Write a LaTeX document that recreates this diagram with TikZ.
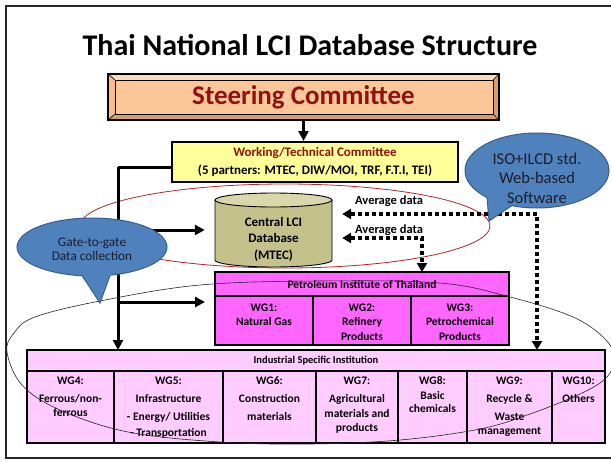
\documentclass[tikz,border=0pt]{standalone}
\usepackage{fontspec}
\setmainfont{Carlito}
\usetikzlibrary{arrows.meta,calc}
\definecolor{darkredtxt}{RGB}{145,18,18}
\definecolor{pitmag}{RGB}{255,102,255}
\definecolor{isipink}{RGB}{255,204,255}
\definecolor{wtcyellow}{RGB}{255,255,153}
\definecolor{scface}{RGB}{251,198,152}
\definecolor{sclight}{RGB}{253,218,186}
\definecolor{scmid}{RGB}{247,190,140}
\definecolor{scdark}{RGB}{214,158,108}
\definecolor{callblue}{RGB}{79,129,189}
\definecolor{callborder}{RGB}{56,93,138}
\definecolor{calltxt}{RGB}{28,30,44}
\definecolor{dbbody}{RGB}{196,193,138}
\definecolor{dbtop}{RGB}{217,215,171}
\definecolor{redring}{RGB}{178,40,40}
\tikzset{
  boxline/.style={draw=black, line width=2pt},
  thickarrow/.style={line width=3pt, -{Triangle[length=10pt,width=10pt]}},
  thickline/.style={line width=3pt},
  dotarrow/.style={line width=3.5pt, dash pattern=on 4pt off 3pt,
     {Triangle[length=9pt,width=10pt]}-{Triangle[length=9pt,width=10pt]}},
  pitcell/.style={boxline, fill=pitmag, anchor=north west, inner sep=0pt, outer sep=0pt},
  isicell/.style={boxline, fill=isipink, anchor=north west, inner sep=0pt, outer sep=0pt},
  celltext/.style={anchor=north, align=center, inner sep=0pt,
     font=\bfseries\fontsize{11.5}{14}\selectfont},
  pittext/.style={anchor=north, align=center, inner sep=0pt,
     font=\bfseries\fontsize{11.5}{14.5}\selectfont},
  callfill/.style={fill=callblue},
  callline/.style={draw=callborder, line width=1pt},
}
\begin{document}
\begin{tikzpicture}[x=1pt,y=-1pt]
\useasboundingbox (0,0) rectangle (611,461);
\clip (0,0) rectangle (611,461);
\fill[white] (0,0) rectangle (611,461);
% frame
\draw[line width=2pt, black!85] (6,6) rectangle (630,458);

% title
\node[font=\bfseries\fontsize{30}{36}\selectfont] (title) at (310,45) {Thai National LCI Database Structure};

% red ring
\draw[redring, line width=0.8pt] (285,226) ellipse[x radius=205, y radius=42];

% steering committee (bevel)
\fill[sclight] (108,74) -- (499,74) -- (493,80) -- (115,80) -- cycle;
\fill[scmid] (108,74) -- (115,80) -- (115,114) -- (108,120) -- cycle;
\fill[scdark] (108,120) -- (499,120) -- (493,114) -- (115,114) -- cycle;
\fill[scdark] (499,74) -- (499,120) -- (493,114) -- (493,80) -- cycle;
\draw[line width=0.6pt] (108,74) -- (115,80) (499,74) -- (493,80) (108,120) -- (115,114) (499,120) -- (493,114);
\node[draw=black, line width=0.8pt, fill=scface, minimum width=378pt, minimum height=34pt, inner sep=0pt] (scface) at (304,97) {};
\node[draw=black, line width=1.5pt, minimum width=391pt, minimum height=46pt, inner sep=0pt,
      text=darkredtxt, font=\bfseries\fontsize{27}{32}\selectfont] (sc) at (303.5,97) {Steering Committee};

% working / technical committee
\node[boxline, fill=wtcyellow, minimum width=286pt, minimum height=40pt, inner sep=0pt, align=center,
      font=\bfseries\fontsize{13}{18}\selectfont] (wtc) at (315,162)
      {\textcolor{darkredtxt}{Working/Technical Committee}\\(5 partners: MTEC, DIW/MOI, TRF, F.T.I, TEI)};
\draw[thickarrow] (sc.south) -- (sc.south |- wtc.north);

% central database (cylinder)
\node[minimum width=117pt, minimum height=74pt, inner sep=0pt] (db) at (273.5,230) {};
\filldraw[fill=dbbody, line width=0.9pt] (215,200) -- (215,260) -- plot[domain=180:360, samples=40] ({273.5+58.5*cos(\x)},{260-7*sin(\x)}) -- (332,200) -- cycle;
\filldraw[fill=dbtop, line width=0.9pt] (273.5,200) ellipse[x radius=58.5, y radius=7];
\node[align=center, font=\bfseries\fontsize{13}{16.5}\selectfont] (dbt) at (273.5,239) {Central LCI\\Database\\(MTEC)};

% Petroleum Institute of Thailand
\node[pitcell, minimum width=294pt, minimum height=24pt, font=\bfseries\fontsize{11.5}{14}\selectfont] (pit) at (215,272) {Petroleum Institute of Thailand};
\node[pitcell, minimum width=98pt, minimum height=49pt] (wg1) at (215,296) {};
\node[pitcell, minimum width=98pt, minimum height=49pt] (wg2) at (313,296) {};
\node[pitcell, minimum width=98pt, minimum height=49pt] (wg3) at (411,296) {};
\node[pittext] (wg1t) at ($(wg1.north)+(0,7.4)$) {WG1:\\Natural Gas};
\node[pittext] (wg2t) at ($(wg2.north)+(0,7.4)$) {WG2:\\Refinery\\Products};
\node[pittext] (wg3t) at ($(wg3.north)+(0,7.4)$) {WG3:\\Petrochemical\\Products};

% Industrial Specific Institution
\node[isicell, minimum width=578pt, minimum height=21pt, font=\bfseries\fontsize{10.5}{13}\selectfont] (isi) at (27,350) {Industrial Specific Institution};
\node[isicell, minimum width=87pt, minimum height=72pt] (wg4) at (27,371) {};
\node[isicell, minimum width=109pt, minimum height=72pt] (wg5) at (114,371) {};
\node[isicell, minimum width=93pt, minimum height=72pt] (wg6) at (223,371) {};
\node[isicell, minimum width=82pt, minimum height=72pt] (wg7) at (316,371) {};
\node[isicell, minimum width=69pt, minimum height=72pt] (wg8) at (398,371) {};
\node[isicell, minimum width=85pt, minimum height=72pt] (wg9) at (467,371) {};
\node[isicell, minimum width=53pt, minimum height=72pt] (wg10) at (552,371) {};
\node[celltext] (wg4t) at ($(wg4.north)+(0,5.4)$) {WG4:\\[4pt]Ferrous/non-\\ferrous};
\node[celltext] (wg5t) at ($(wg5.north)+(0,5.4)$) {WG5:\\[4pt]Infrastructure\\[4pt]- Energy/ Utilities\\[2pt]- Transportation};
\node[celltext] (wg6t) at ($(wg6.north)+(0,5.4)$) {WG6:\\[4pt]Construction\\[4pt]materials};
\node[celltext] (wg7t) at ($(wg7.north)+(0,5.4)$) {WG7:\\[4pt]Agricultural\\[1pt]materials and\\products};
\node[celltext] (wg8t) at ($(wg8.north)+(0,5.4)$) {WG8:\\[1pt]Basic\\[-1pt]chemicals};
\node[celltext] (wg9t) at ($(wg9.north)+(0,5.4)$) {WG9:\\[4pt]Recycle \&\\[4pt]Waste\\management};
\node[celltext] (wg10t) at ($(wg10.north)+(0,5.4)$) {WG10:\\[4pt]Others};

% solid trunk and arrows
\coordinate (tk) at (118,167);
\coordinate (tkp) at (118,302);
\draw[thickline] (wtc.west |- tk) -- (tk);
\draw[thickarrow] (tk) -- (tk |- isi.north);
\draw[thickarrow, shorten >=10pt] (tk |- db.west) -- (db.west);
\draw[thickarrow, shorten >=10pt] (tkp) -- (tkp -| pit.west);

% dotted average-data arrows
\coordinate (c1) at (537,214);
\coordinate (c2) at (422,238);
\draw[dotarrow, shorten <=10pt] (db.east |- c1) -- (c1) -- (c1 |- isi.north);
\draw[dotarrow, shorten <=10pt] (db.east |- c2) -- (c2) -- (c2 |- pit.north);
\node[anchor=west, inner sep=0pt, font=\bfseries\fontsize{12.5}{14}\selectfont] (avg1) at (355,201) {Average data};
\node[anchor=west, inner sep=0pt, font=\bfseries\fontsize{12.5}{14}\selectfont] (avg2) at (355,230) {Average data};

% large thin ring
\draw[black!85, line width=0.6pt] plot[smooth cycle, tension=0.6] coordinates {
 (7,352) (14,333) (35,317) (100,301) (200,285) (320,281) (440,283) (510,297)
 (573,317) (606,340) (614,360) (606,378) (580,394) (530,414) (480,429)
 (400,440) (310,444) (220,442) (128,432) (60,410) (22,385)};

% callout: gate-to-gate
\filldraw[callfill, callline] (92,247) ellipse[x radius=75, y radius=29];
\fill[callfill] (78.4,270) -- (100,303) -- (112,270) -- cycle;
\draw[callline] (82,275.5) -- (100,303) -- (110,275.5);
\node[align=center, text=calltxt, font=\fontsize{13.3}{14.5}\selectfont] (gate) at (92,249) {Gate-to-gate\\Data collection};

% callout: ISO+ILCD
\filldraw[callfill, callline] (537,170.5) ellipse[x radius=72, y radius=37.5];
\fill[callfill] (486.2,188) -- (489,221) -- (521.2,199.3) -- cycle;
\draw[callline] (487,197.5) -- (489,221) -- (512,205.5);
\node[align=center, text=calltxt, font=\fontsize{16.5}{19.5}\selectfont] (iso) at (537,178) {ISO+ILCD std.\\Web-based\\Software};
\end{tikzpicture}
\end{document}
